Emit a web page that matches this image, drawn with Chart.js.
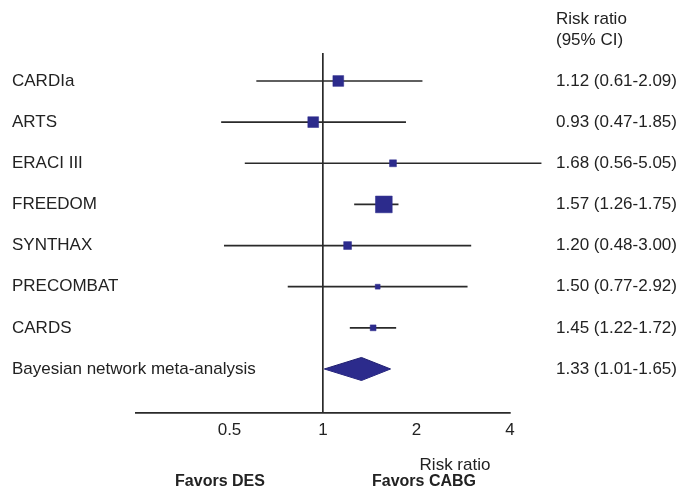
<!DOCTYPE html>
<html>
<head>
<meta charset="utf-8">
<script src="https://cdn.jsdelivr.net/npm/chart.js@4"></script>
<style>
  body { margin: 0; background: #fff; }
</style>
</head>
<body>
<canvas id="forest" width="681" height="488"></canvas>
<script>
// ── Data ───────────────────────────────────────────────────────────
const studies   = ['CARDIa', 'ARTS', 'ERACI III', 'FREEDOM', 'SYNTHAX', 'PRECOMBAT', 'CARDS'];
const rr        = [1.12, 0.93, 1.68, 1.57, 1.20, 1.50, 1.45];
const ciLow     = [0.61, 0.47, 0.56, 1.26, 0.48, 0.77, 1.22];
const ciHigh    = [2.09, 1.85, 5.05, 1.75, 3.00, 2.92, 1.72];
const weights   = [17, 17, 7, 41, 9, 3.5, 5];   // relative box area (%)

const pooledLabel = 'Bayesian network meta-analysis';
const pooled      = { rr: 1.33, low: 1.01, high: 1.65 };

const xTicks = [0.5, 1, 2, 4];

// ── Helpers ────────────────────────────────────────────────────────
const FONT  = '"Liberation Sans", Arial, Helvetica, sans-serif';
const NAVY  = '#2c2b8c';
const INK   = '#2a2a2a';
const TEXT  = '#222222';

const rows     = studies.map((_, i) => i + 1);
const poolRow  = studies.length + 1;
const allRows  = [...rows, poolRow];
const fmt      = v => v.toFixed(2);
const ciText   = [
  ...rr.map((v, i) => `${fmt(v)} (${fmt(ciLow[i])}-${fmt(ciHigh[i])})`),
  `${fmt(pooled.rr)} (${fmt(pooled.low)}-${fmt(pooled.high)})`,
];
const rowLabels = [...studies, pooledLabel];

const LEFT_W  = 124; // width of the label column
const RIGHT_W = 171; // width of the CI column
const CI_X    = 46;  // offset of the CI text from the plot edge

// whiskers, one small line dataset per study
const whiskers = studies.map((s, i) => ({
  label: s + ' CI',
  data: [{ x: ciLow[i], y: rows[i] }, { x: ciHigh[i], y: rows[i] }],
  showLine: true,
  borderColor: INK,
  borderWidth: 1.7,
  pointRadius: 0,
  clip: false,
  order: 3,
}));

const DIAMOND_H = 0.28; // half height of the pooled diamond, in row units

const datasets = [
  {
    label: 'Risk ratio',
    data: rr.map((v, i) => ({ x: v, y: rows[i] })),
    pointStyle: 'rect',
    pointRadius: ctx => Math.sqrt(weights[ctx.dataIndex] || 1) * 1.85,
    backgroundColor: NAVY,
    borderColor: NAVY,
    borderWidth: 0.5,
    order: 1,
  },
  {
    label: 'Pooled upper',
    data: [
      { x: pooled.low,  y: poolRow },
      { x: pooled.rr,   y: poolRow - DIAMOND_H },
      { x: pooled.high, y: poolRow },
    ],
    showLine: true,
    borderColor: '#1e1d6e',
    borderWidth: 1,
    pointRadius: 0,
    tension: 0,
    fill: '+1',
    backgroundColor: NAVY,
    order: 2,
  },
  {
    label: 'Pooled lower',
    data: [
      { x: pooled.low,  y: poolRow },
      { x: pooled.rr,   y: poolRow + DIAMOND_H },
      { x: pooled.high, y: poolRow },
    ],
    showLine: true,
    borderColor: '#1e1d6e',
    borderWidth: 1,
    pointRadius: 0,
    tension: 0,
    fill: false,
    order: 2,
  },
  ...whiskers,
];

// extra texts: column header and the favours captions
const annotations = {
  id: 'annotations',
  afterDraw(chart) {
    const { ctx } = chart;
    const colX = chart.scales.yRight.left + CI_X;
    ctx.save();
    ctx.fillStyle = TEXT;
    ctx.textBaseline = 'middle';
    ctx.textAlign = 'left';
    ctx.font = `17px ${FONT}`;
    ctx.fillText('Risk ratio', colX, 19);
    ctx.fillText('(95% CI)', colX, 40);

    ctx.textAlign = 'center';
    ctx.fillText('Risk ratio', 455, 465);

    ctx.font = `bold 16px ${FONT}`;
    ctx.fillText('Favors DES', 220, 482);
    ctx.fillText('Favors CABG', 424, 482);
    ctx.restore();
  },
};

new Chart(document.getElementById('forest'), {
  type: 'scatter',
  data: { datasets },
  plugins: [annotations],
  options: {
    responsive: false,
    animation: false,
    events: [],
    layout: { padding: { left: 12, top: 53, right: 0, bottom: 0 } },
    plugins: {
      legend: { display: false },
      tooltip: { enabled: false },
    },
    scales: {
      x: {
        type: 'logarithmic',
        min: 0.25,
        max: 4,
        bounds: 'data',
        afterBuildTicks: s => { s.ticks = xTicks.map(v => ({ value: v })); },
        afterFit: s => { s.height = 75; },
        ticks: {
          callback: v => String(v),
          color: TEXT,
          font: { family: FONT, size: 17 },
          padding: 7,
          maxRotation: 0,
          autoSkip: false,
        },
        grid: {
          drawTicks: false,
          lineWidth: 1.7,
          color: c => (c.tick && c.tick.value === 1 ? INK : 'rgba(0,0,0,0)'),
        },
        border: { display: true, color: INK, width: 1.7 },
      },
      y: {
        type: 'linear',
        position: 'left',
        reverse: true,
        min: 0.32,
        max: 9.07,
        afterBuildTicks: s => { s.ticks = allRows.map(v => ({ value: v })); },
        afterFit: s => { s.width = LEFT_W; },
        ticks: {
          callback: v => rowLabels[v - 1] || '',
          // mirrored so the long pooled label is not clipped to the axis box
          mirror: true,
          padding: -LEFT_W,
          color: TEXT,
          font: { family: FONT, size: 17 },
          autoSkip: false,
        },
        grid: { display: false, drawTicks: false },
        border: { display: false },
      },
      yRight: {
        type: 'linear',
        position: 'right',
        reverse: true,
        min: 0.32,
        max: 9.07,
        afterBuildTicks: s => { s.ticks = allRows.map(v => ({ value: v })); },
        afterFit: s => { s.width = RIGHT_W; },
        ticks: {
          callback: v => ciText[v - 1] || '',
          crossAlign: 'near',
          padding: 8,
          color: TEXT,
          font: { family: FONT, size: 17 },
          autoSkip: false,
        },
        // hidden tick marks only push the CI text away from the plot
        grid: { display: false, drawTicks: true, tickLength: CI_X - 8 },
        border: { display: false },
      },
    },
  },
});
</script>
</body>
</html>
